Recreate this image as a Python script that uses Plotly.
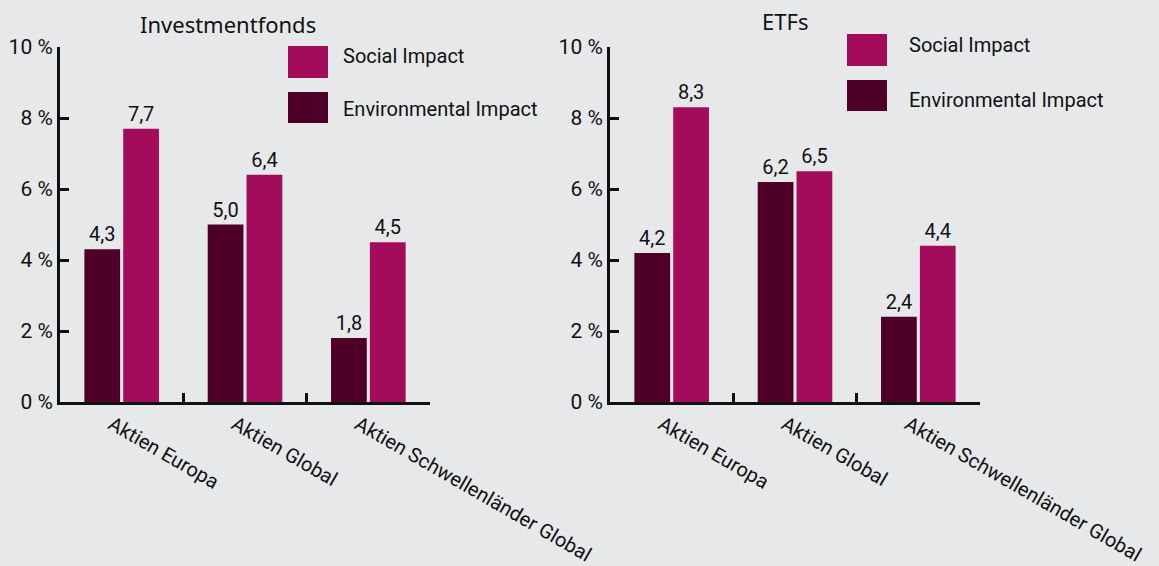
import plotly.graph_objects as go

# Data
categories = ["Aktien Europa", "Aktien Global", "Aktien Schwellenländer Global"]
fonds_environmental = [4.3, 5.0, 1.8]
fonds_social = [7.7, 6.4, 4.5]
etf_environmental = [4.2, 6.2, 2.4]
etf_social = [8.3, 6.5, 4.4]
y_ticks = [0, 2, 4, 6, 8, 10]
y_tick_labels = [f"{v} %" for v in y_ticks]
panel_titles = ["Investmentfonds", "ETFs"]
series_names = ["Social Impact", "Environmental Impact"]

# Styling
W, H = 1159, 566
BG = "#e7e8ea"
SOCIAL = "#a20c5a"
ENV = "#4f0029"
INK = "#111111"
FONT = "Roboto"
TITLE_FONT = "Noto Sans"
FS = 20


def fx(px):
    return px / W


def fy(px):
    return 1 - px / H


fig = go.Figure()

panels = [
    ("x", "y", fonds_environmental, fonds_social),
    ("x2", "y2", etf_environmental, etf_social),
]
for xa, ya, env_vals, soc_vals in panels:
    for vals, color in ((env_vals, ENV), (soc_vals, SOCIAL)):
        fig.add_trace(go.Bar(
            x=categories, y=vals, xaxis=xa, yaxis=ya,
            marker=dict(color=color, line=dict(width=0)),
            texttemplate="%{y:.1f}", textposition="outside",
            textfont=dict(family=FONT, size=FS, color=INK),
            cliponaxis=False, showlegend=False,
        ))

x_common = dict(
    type="category", showline=True, linecolor=INK, linewidth=3,
    ticks="inside", ticklen=9, tickwidth=3, tickcolor=INK,
    tickson="boundaries", tickangle=30, showgrid=False,
    automargin=False, ticklabelshift=-10,
    tickfont=dict(family=FONT, size=FS, color=INK),
)
y_common = dict(
    range=[0, 10], tickmode="array", tickvals=y_ticks, ticktext=y_tick_labels,
    showline=True, linecolor=INK, linewidth=3,
    ticks="inside", ticklen=9, tickwidth=3, tickcolor=INK,
    showgrid=False, zeroline=False, automargin=False,
    tickfont=dict(family=FONT, size=21, color=INK),
    domain=[fy(402), fy(47)],
)

fig.update_layout(
    width=W, height=H,
    margin=dict(l=0, r=0, t=0, b=0, autoexpand=False),
    paper_bgcolor=BG, plot_bgcolor=BG,
    barmode="group", bargap=0.37, bargroupgap=0.08,
    separators=",.",
    xaxis=dict(domain=[fx(60), fx(430)], anchor="y", **x_common),
    xaxis2=dict(domain=[fx(610), fx(980)], anchor="y2", **x_common),
    yaxis=dict(anchor="x", **y_common),
    yaxis2=dict(anchor="x2", **y_common),
    font=dict(family=FONT, size=FS, color=INK),
)

# Panel titles
for title, cx, cy in ((panel_titles[0], 228, 24), (panel_titles[1], 785, 21)):
    fig.add_annotation(
        text=title, x=fx(cx), y=fy(cy), xref="paper", yref="paper",
        xanchor="center", yanchor="middle", showarrow=False,
        font=dict(family=TITLE_FONT, size=22, color=INK),
    )

# Legend swatches and labels for each panel: (swatch x, text x, [(top, bottom, text y)])
legend_blocks = [
    (288, 341, [(46, 78, 56), (92, 123, 109)]),
    (847, 907, [(34, 66, 45), (80, 111, 100)]),
]
for sx, tx, rows in legend_blocks:
    for (top, bottom, ty), name, color in zip(rows, series_names, (SOCIAL, ENV)):
        fig.add_shape(
            type="rect", xref="paper", yref="paper",
            x0=fx(sx), x1=fx(sx + 40), y0=fy(bottom), y1=fy(top),
            fillcolor=color, line=dict(width=0),
        )
        fig.add_annotation(
            text=name, x=fx(tx), y=fy(ty),
            xref="paper", yref="paper", xanchor="left", yanchor="middle",
            showarrow=False, font=dict(family=FONT, size=FS, color=INK),
        )

fig.write_html("out.html")
